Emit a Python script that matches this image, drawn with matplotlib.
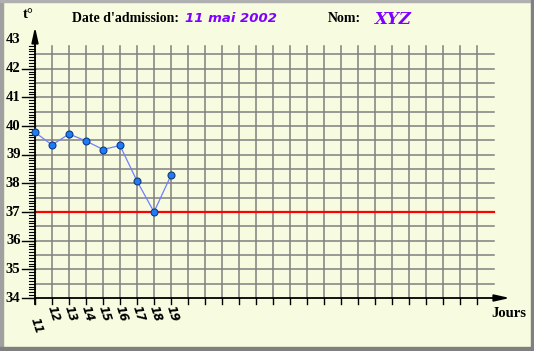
import numpy as np
import matplotlib.pyplot as plt
from matplotlib.patches import Rectangle

# temperature chart data
days = ['11', '12', '13', '14', '15', '16', '17', '18', '19']
temps = [39.78, 39.34, 39.72, 39.48, 39.18, 39.32, 38.08, 37.0, 38.28]
y_labels = [34, 35, 36, 37, 38, 39, 40, 41, 42, 43]
ref_temp = 37
n_cols = 27
date_text = '11 mai 2002'
name_text = 'XYZ'

bg = '#f7fbdf'
grid_col = '#808080'
purple = '#8000ff'

fig = plt.figure(figsize=(5.34, 3.51), dpi=100)
fig.patch.set_facecolor(bg)
ax = fig.add_axes([0, 0, 1, 1])
ax.set_facecolor(bg)
ax.axis('off')

# pixel mapping: x=0 at px 35 (17 px/day), y=34 at px 298 (28.67 px/deg)
px_day = 17.0
px_deg = 258 / 9
ax.set_xlim(-35 / px_day, (534 - 35) / px_day)
ax.set_ylim(34 - (351 - 298) / px_deg, 34 + 298 / px_deg)

# grid
for i in range(1, n_cols):
    ax.plot([i, i], [34, 42.8], color=grid_col, lw=1.1, zorder=1)
for v in np.arange(34.5, 42.6, 0.5):
    ax.plot([0, n_cols], [v, v], color=grid_col, lw=1.1, zorder=1)

# reference line
ax.plot([0, n_cols], [ref_temp, ref_temp], color='red', lw=1.6, zorder=2)

# y axis with ticks
ax.plot([0, 0], [34 - 0.22, 42.8], color='black', lw=1.3, zorder=3)
for v in np.arange(34, 42.85, 0.1):
    ax.plot([-0.36, 0], [v, v], color='black', lw=0.8, zorder=3)
for v in y_labels[:-1]:
    ax.plot([-0.78, 0], [v, v], color='black', lw=1.0, zorder=3)
for v in y_labels:
    ax.text(-0.85, v, str(v), ha='right', va='center', fontsize=10.5,
            fontweight='bold', family='Liberation Serif')
ax.annotate('', xy=(0, 43.55), xytext=(0, 42.7),
            arrowprops=dict(arrowstyle='-|>,head_length=0.9,head_width=0.2',
                            color='black', lw=1.3))
ax.text(-0.1, 43.9, 't°', ha='right', va='center', fontsize=10.5,
        fontweight='bold', family='Liberation Serif')

# x axis with ticks
ax.plot([0, 27.5], [34, 34], color='black', lw=1.3, zorder=3)
for i in range(0, n_cols):
    ax.plot([i, i], [34, 34 - 0.2], color='black', lw=1.0, zorder=3)
ax.annotate('', xy=(28.1, 34), xytext=(27.0, 34),
            arrowprops=dict(arrowstyle='-|>,head_length=0.9,head_width=0.2',
                            color='black', lw=1.3))
ax.text(27.9, 33.45, 'Jours', ha='center', va='center', fontsize=10.5,
        fontweight='bold', family='Liberation Serif')

for i, d in enumerate(days):
    yy = 33.05 if i == 0 else 33.45
    ax.text(i + 0.1, yy, d, ha='center', va='center', rotation=-72,
            fontsize=8.5, fontweight='bold', fontstyle='italic',
            family='DejaVu Sans')

# data
ax.plot(range(len(temps)), temps, color='#6f7fff', lw=0.9, zorder=4)
ax.plot(range(len(temps)), temps, 'o', color='#1e7cf5', mec='#123a80',
        mew=0.8, ms=5, zorder=5)

# header
fig.text(72 / 534, 1 - 19 / 351, "Date d'admission:", ha='left', va='center',
         fontsize=10, fontweight='bold', family='Liberation Serif')
fig.text(185 / 534, 1 - 19 / 351, date_text, ha='left', va='center',
         fontsize=9.5, fontweight='bold', fontstyle='italic',
         family='DejaVu Sans', color=purple)
fig.text(328 / 534, 1 - 19 / 351, 'Nom:', ha='left', va='center',
         fontsize=10, fontweight='bold', family='Liberation Serif')
fig.text(375 / 534, 1 - 19 / 351, name_text, ha='left', va='center',
         fontsize=12, fontweight='bold', fontstyle='italic',
         family='DejaVu Serif', color=purple)

# frame
fig.patches.append(Rectangle((0, 0), 3 / 534, 1, transform=fig.transFigure,
                             color='#a0a0a0', zorder=10))
fig.patches.append(Rectangle((0, 1 - 2 / 351), 1, 2 / 351, transform=fig.transFigure,
                             color='#b0b0b0', zorder=10))
fig.patches.append(Rectangle((1 - 3 / 534, 0), 3 / 534, 1, transform=fig.transFigure,
                             color='#808080', zorder=10))
fig.patches.append(Rectangle((0, 0), 1, 4 / 351, transform=fig.transFigure,
                             color='#808080', zorder=10))

fig.savefig('out.png', dpi=100, facecolor=bg)
